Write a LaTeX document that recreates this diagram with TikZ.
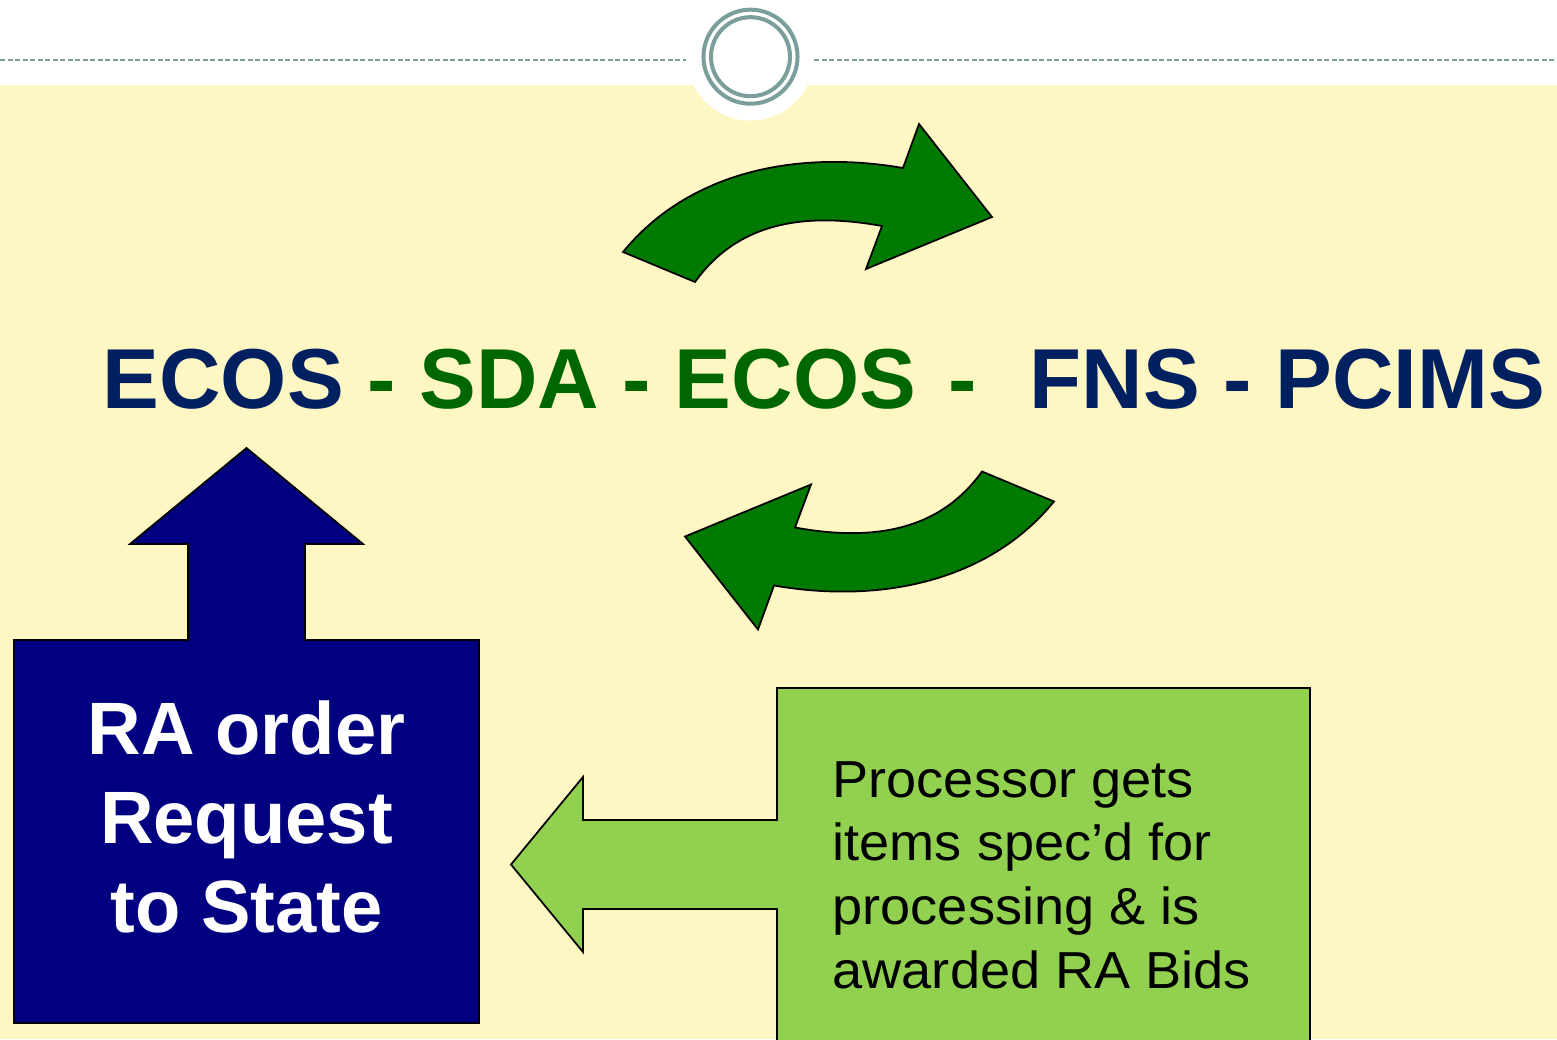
\documentclass[tikz,border=0pt]{standalone}
\usepackage{fontspec}
\setmainfont{Liberation Sans}
\newfontfamily\procfont[FakeStretch=1.04]{Liberation Sans}

\definecolor{bgyellow}{RGB}{255,247,195}
\definecolor{ringgrey}{RGB}{122,158,156}
\definecolor{titlenavy}{RGB}{0,32,96}
\definecolor{titlegreen}{RGB}{0,102,0}
\definecolor{arrowgreen}{RGB}{0,122,0}
\definecolor{boxnavy}{RGB}{0,0,128}
\definecolor{boxgreen}{RGB}{146,208,80}

\begin{document}
\begin{tikzpicture}[x=0.01cm, y=-0.01cm,
  outlined/.style={draw=black, line width=0.5pt},
  titletext/.style={anchor=base west, inner sep=0, font=\fontsize{24.2}{29}\selectfont\bfseries},
  every node/.style={inner sep=0}]

  \useasboundingbox (0,0) rectangle (1557,1039);
  \clip (0,0) rectangle (1557,1039);

  % Slide background
  \fill[white] (0,0) rectangle (1557,1039);
  \fill[bgyellow] (0,85) rectangle (1557,1039);
  \fill[white] (750.5,57) circle (0.635cm);
  \draw[ringgrey, line width=0.57pt, dash pattern=on 0.05cm off 0.025cm] (0,60.3) -- (686,60.3);
  \draw[ringgrey, line width=0.57pt, dash pattern=on 0.05cm off 0.025cm] (814,60.3) -- (1557,60.3);
  \draw[ringgrey, line width=1.14pt] (750.5,56.7) circle (0.47cm);
  \draw[ringgrey, line width=1.14pt] (750.5,56.7) circle (0.395cm);

  % Curved arrows
  \draw[outlined, fill=arrowgreen] (623,252) .. controls (690,170) and (800,150) .. (903,168)
    -- (919,124) -- (992,217) -- (866,269) -- (882,226)
    .. controls (805,212) and (738,222) .. (695,282) -- cycle;
  \begin{scope}[rotate around={180:(838.5,376.75)}]
    \draw[outlined, fill=arrowgreen] (623,252) .. controls (690,170) and (800,150) .. (903,168)
      -- (919,124) -- (992,217) -- (866,269) -- (882,226)
      .. controls (805,212) and (738,222) .. (695,282) -- cycle;
  \end{scope}

  % Title line
  \node[titletext, text=titlenavy] (ecos) at (102,408) {ECOS};
  \node[titletext, text=titlegreen] (sda) at (367,408) {- SDA - ECOS\hspace{0.1em} -};
  \node[titletext, text=titlenavy] (fns) at (1029,408) {FNS - PCIMS};

  % Request callout
  \draw[outlined, fill=boxnavy] (14,640) -- (188,640) -- (188,544) -- (130,544) -- (246.5,448)
    -- (363,544) -- (305,544) -- (305,640) -- (479,640) -- (479,1023) -- (14,1023) -- cycle;
  \node[align=center, text=white, font=\fontsize{21.1}{25.2}\selectfont\bfseries] (request) at (246.5,817)
    {RA order\\Request\\to State};

  % Processor callout
  \draw[outlined, fill=boxgreen] (777,688) -- (1310,688) -- (1310,1060) -- (777,1060) -- (777,909)
    -- (583,909) -- (583,952) -- (511,864.5) -- (583,777) -- (583,820) -- (777,820) -- cycle;
  \node[anchor=west, align=left, font=\procfont\fontsize{14.8}{18.1}\selectfont] (processor) at (832,875)
    {Processor gets\\items spec’d for\\processing \& is\\awarded RA Bids};

\end{tikzpicture}
\end{document}
